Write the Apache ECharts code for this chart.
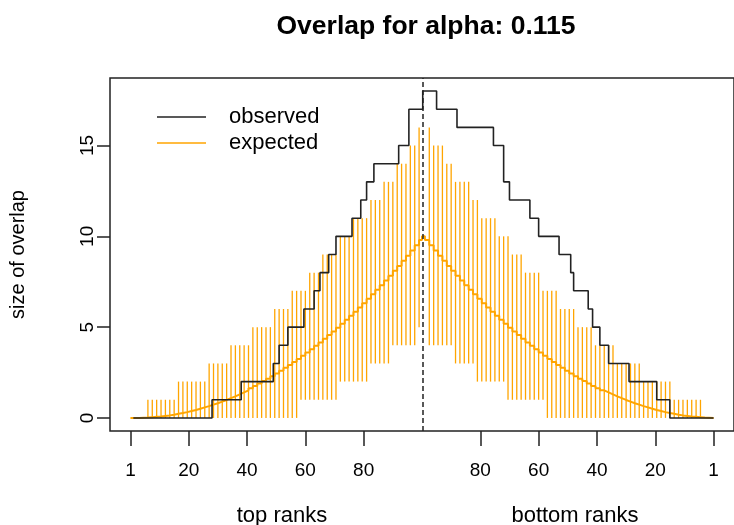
<!DOCTYPE html>
<html>
<head>
<meta charset="utf-8">
<title>Overlap for alpha: 0.115</title>
<script src="https://cdn.jsdelivr.net/npm/echarts@6/dist/echarts.min.js"></script>
<style>
  html, body { margin: 0; padding: 0; background: #fff; }
  #chart { width: 734px; height: 525px; }
</style>
</head>
<body>
<div id="chart"></div>
<script>
// x runs over top ranks (left) and then bottom ranks mirrored (right)
const rankStep = 1.5;      // one point every 1.5 ranks
const middle = 100.25;     // dashed separator
const tickPos = [0, 20, 40, 60, 80];
const tickLabels = ['1', '20', '40', '60', '80'];

// observed overlap: rank where each level starts
const topObsRank = [1, 28, 38, 49, 51, 54, 59.5, 63, 65, 68, 70.5, 76, 79, 81, 83.5, 92, 95.5, middle];
const topObsVal  = [0, 1, 2, 3, 4, 5, 6, 7, 8, 9, 10, 11, 12, 13, 14, 15, 17, 18];
const bottomObsRank = [95, 88, 75.5, 72, 70, 63, 60, 53, 49, 48, 43, 41.5, 39, 36, 29, 19.5, 15, 0];
const bottomObsVal  = [17, 16, 15, 13, 12, 11, 10, 9, 8, 7, 6, 5, 4, 3, 2, 1, 0, 0];

// expected overlap at rank k*1.5, k = 0..66 (same on both halves)
const expected = [
  0, 0, 0.01, 0.02, 0.04, 0.06, 0.08, 0.11, 0.14, 0.18,
  0.23, 0.27, 0.32, 0.38, 0.44, 0.51, 0.58, 0.65, 0.73, 0.81,
  0.9, 0.99, 1.09, 1.19, 1.3, 1.41, 1.52, 1.64, 1.76, 1.89,
  2.03, 2.16, 2.3, 2.45, 2.6, 2.76, 2.92, 3.08, 3.25, 3.42,
  3.6, 3.78, 3.97, 4.16, 4.36, 4.56, 4.76, 4.97, 5.18, 5.4,
  5.63, 5.85, 6.08, 6.32, 6.56, 6.81, 7.06, 7.31, 7.57, 7.83,
  8.1, 8.37, 8.65, 8.93, 9.22, 9.51, 9.8
];
const expectedPeak = 10;

// error bars at rank k*1.5, k = 1..
const topUpper = [
  0, 0, 0, 1, 1, 1, 1, 1, 1, 1,
  2, 2, 2, 2, 2, 2, 2, 3, 3, 3,
  3, 3, 4, 4, 4, 4, 4, 5, 5, 5,
  5, 5, 6, 6, 6, 6, 7, 7, 7, 7,
  8, 8, 8, 9, 9, 9, 9, 10, 10, 10,
  11, 11, 11, 11, 12, 12, 12, 13, 13, 13,
  14, 14, 14, 15, 15, 16
];
const topLower = [
  0, 0, 0, 0, 0, 0, 0, 0, 0, 0,
  0, 0, 0, 0, 0, 0, 0, 0, 0, 0,
  0, 0, 0, 0, 0, 0, 0, 0, 0, 0,
  0, 0, 0, 0, 0, 0, 0, 0, 1, 1,
  1, 1, 1, 1, 1, 1, 1, 2, 2, 2,
  2, 2, 2, 2, 3, 3, 3, 3, 3, 4,
  4, 4, 4, 4, 4, 5
];
const bottomUpper = [
  0, 0, 1, 1, 1, 1, 1, 1, 1, 2,
  2, 2, 2, 2, 2, 2, 3, 3, 3, 3,
  3, 3, 4, 4, 4, 4, 4, 5, 5, 5,
  5, 6, 6, 6, 6, 7, 7, 7, 7, 8,
  8, 8, 8, 9, 9, 9, 10, 10, 10, 11,
  11, 11, 11, 12, 12, 13, 13, 13, 13, 14,
  14, 15, 15, 15, 16
];
const bottomLower = [
  0, 0, 0, 0, 0, 0, 0, 0, 0, 0,
  0, 0, 0, 0, 0, 0, 0, 0, 0, 0,
  0, 0, 0, 0, 0, 0, 0, 0, 0, 0,
  0, 0, 0, 0, 0, 0, 0, 0, 1, 1,
  1, 1, 1, 1, 1, 1, 1, 2, 2, 2,
  2, 2, 2, 2, 3, 3, 3, 3, 3, 4,
  4, 4, 4, 4, 4
];

const mirror = r => 200 - r;

// observed step line
const observedData = [];
topObsRank.forEach((r, i) => observedData.push([r, topObsVal[i]]));
bottomObsRank.forEach((r, i) => observedData.push([mirror(r), bottomObsVal[i]]));

// expected step line
const expectedData = [];
expected.forEach((v, k) => expectedData.push([k * rankStep, v]));
expectedData.push([100, expectedPeak]);
for (let k = expected.length - 1; k >= 0; k--) {
  expectedData.push([mirror(k * rankStep), expected[k]]);
}

// error bars
const barData = [];
topUpper.forEach((u, i) => barData.push([(i + 1) * rankStep, topLower[i], u]));
bottomUpper.forEach((u, i) => barData.push([mirror((i + 1) * rankStep), bottomLower[i], u]));

const allTicks = tickPos.concat(tickPos.slice().reverse().map(mirror));

const chart = echarts.init(document.getElementById('chart'));
const font = 'Liberation Sans, Arial, sans-serif';

chart.setOption({
  animation: false,
  backgroundColor: '#fff',
  textStyle: { fontFamily: font, color: '#000' },
  title: [
    {
      text: 'Overlap for alpha: 0.115',
      left: 421, top: 8, textAlign: 'center',
      textStyle: { fontSize: 26.5, fontWeight: 'bold', color: '#000', fontFamily: font }
    },
    {
      text: 'top ranks',
      left: 277, top: 500, textAlign: 'center',
      textStyle: { fontSize: 22, fontWeight: 'normal', color: '#000', fontFamily: font }
    },
    {
      text: 'bottom ranks',
      left: 570, top: 500, textAlign: 'center',
      textStyle: { fontSize: 22, fontWeight: 'normal', color: '#000', fontFamily: font }
    }
  ],
  legend: {
    data: ['observed', 'expected'],
    orient: 'vertical',
    left: 157, top: 106,
    padding: 0,
    icon: 'rect',
    itemWidth: 49, itemHeight: 1.5,
    itemGap: 4,
    textStyle: { fontSize: 22, lineHeight: 22, color: '#000', padding: [0, 0, 0, 18], fontFamily: font }
  },
  grid: {
    left: 110, right: -5, top: 78, bottom: 94,
    show: true, borderColor: '#222', borderWidth: 1.5, backgroundColor: 'transparent'
  },
  xAxis: {
    type: 'value',
    min: -7, max: 207,
    axisLine: { show: false, onZero: false },
    splitLine: { show: false },
    axisTick: { show: true, length: 15, lineStyle: { color: '#222', width: 1.5 }, customValues: allTicks },
    axisLabel: {
      customValues: allTicks, margin: 30, fontSize: 19, color: '#000',
      formatter: v => v <= 100 ? tickLabels[tickPos.indexOf(v)] : tickLabels[tickPos.indexOf(mirror(v))]
    }
  },
  yAxis: {
    type: 'value',
    min: -0.72, max: 18.72,
    name: 'size of overlap',
    nameLocation: 'middle', nameRotate: 90, nameGap: 82,
    nameTextStyle: { fontSize: 20, color: '#000' },
    axisLine: { show: false, onZero: false },
    splitLine: { show: false },
    axisTick: { show: true, length: 13, lineStyle: { color: '#222', width: 1.5 }, customValues: [0, 5, 10, 15] },
    axisLabel: { customValues: [0, 5, 10, 15], rotate: 90, margin: 13, fontSize: 19, color: '#000' }
  },
  series: [
    {
      name: 'bars',
      type: 'custom',
      data: barData,
      encode: { x: 0, y: [1, 2] },
      z: 1,
      renderItem: function (params, api) {
        if (api.value(1) === api.value(2)) return null;
        const lo = api.coord([api.value(0), api.value(1)]);
        const hi = api.coord([api.value(0), api.value(2)]);
        return {
          type: 'line',
          shape: { x1: lo[0], y1: lo[1], x2: hi[0], y2: hi[1] },
          style: { stroke: '#ffa500', lineWidth: 1.3, opacity: 1 }
        };
      }
    },
    {
      name: 'expected',
      type: 'line',
      step: 'end',
      data: expectedData,
      symbol: 'none',
      z: 2,
      itemStyle: { color: '#ffa500' },
      lineStyle: { color: '#ffa500', width: 2 }
    },
    {
      name: 'observed',
      type: 'line',
      step: 'end',
      data: observedData,
      symbol: 'none',
      z: 3,
      itemStyle: { color: '#222' },
      lineStyle: { color: '#222', width: 1.6 },
      markLine: {
        silent: true,
        symbol: 'none',
        label: { show: false },
        lineStyle: { color: '#222', type: [5, 3], width: 1.5 },
        data: [[{ coord: [middle, -0.72] }, { coord: [middle, 18.72] }]]
      }
    }
  ]
});
</script>
</body>
</html>
